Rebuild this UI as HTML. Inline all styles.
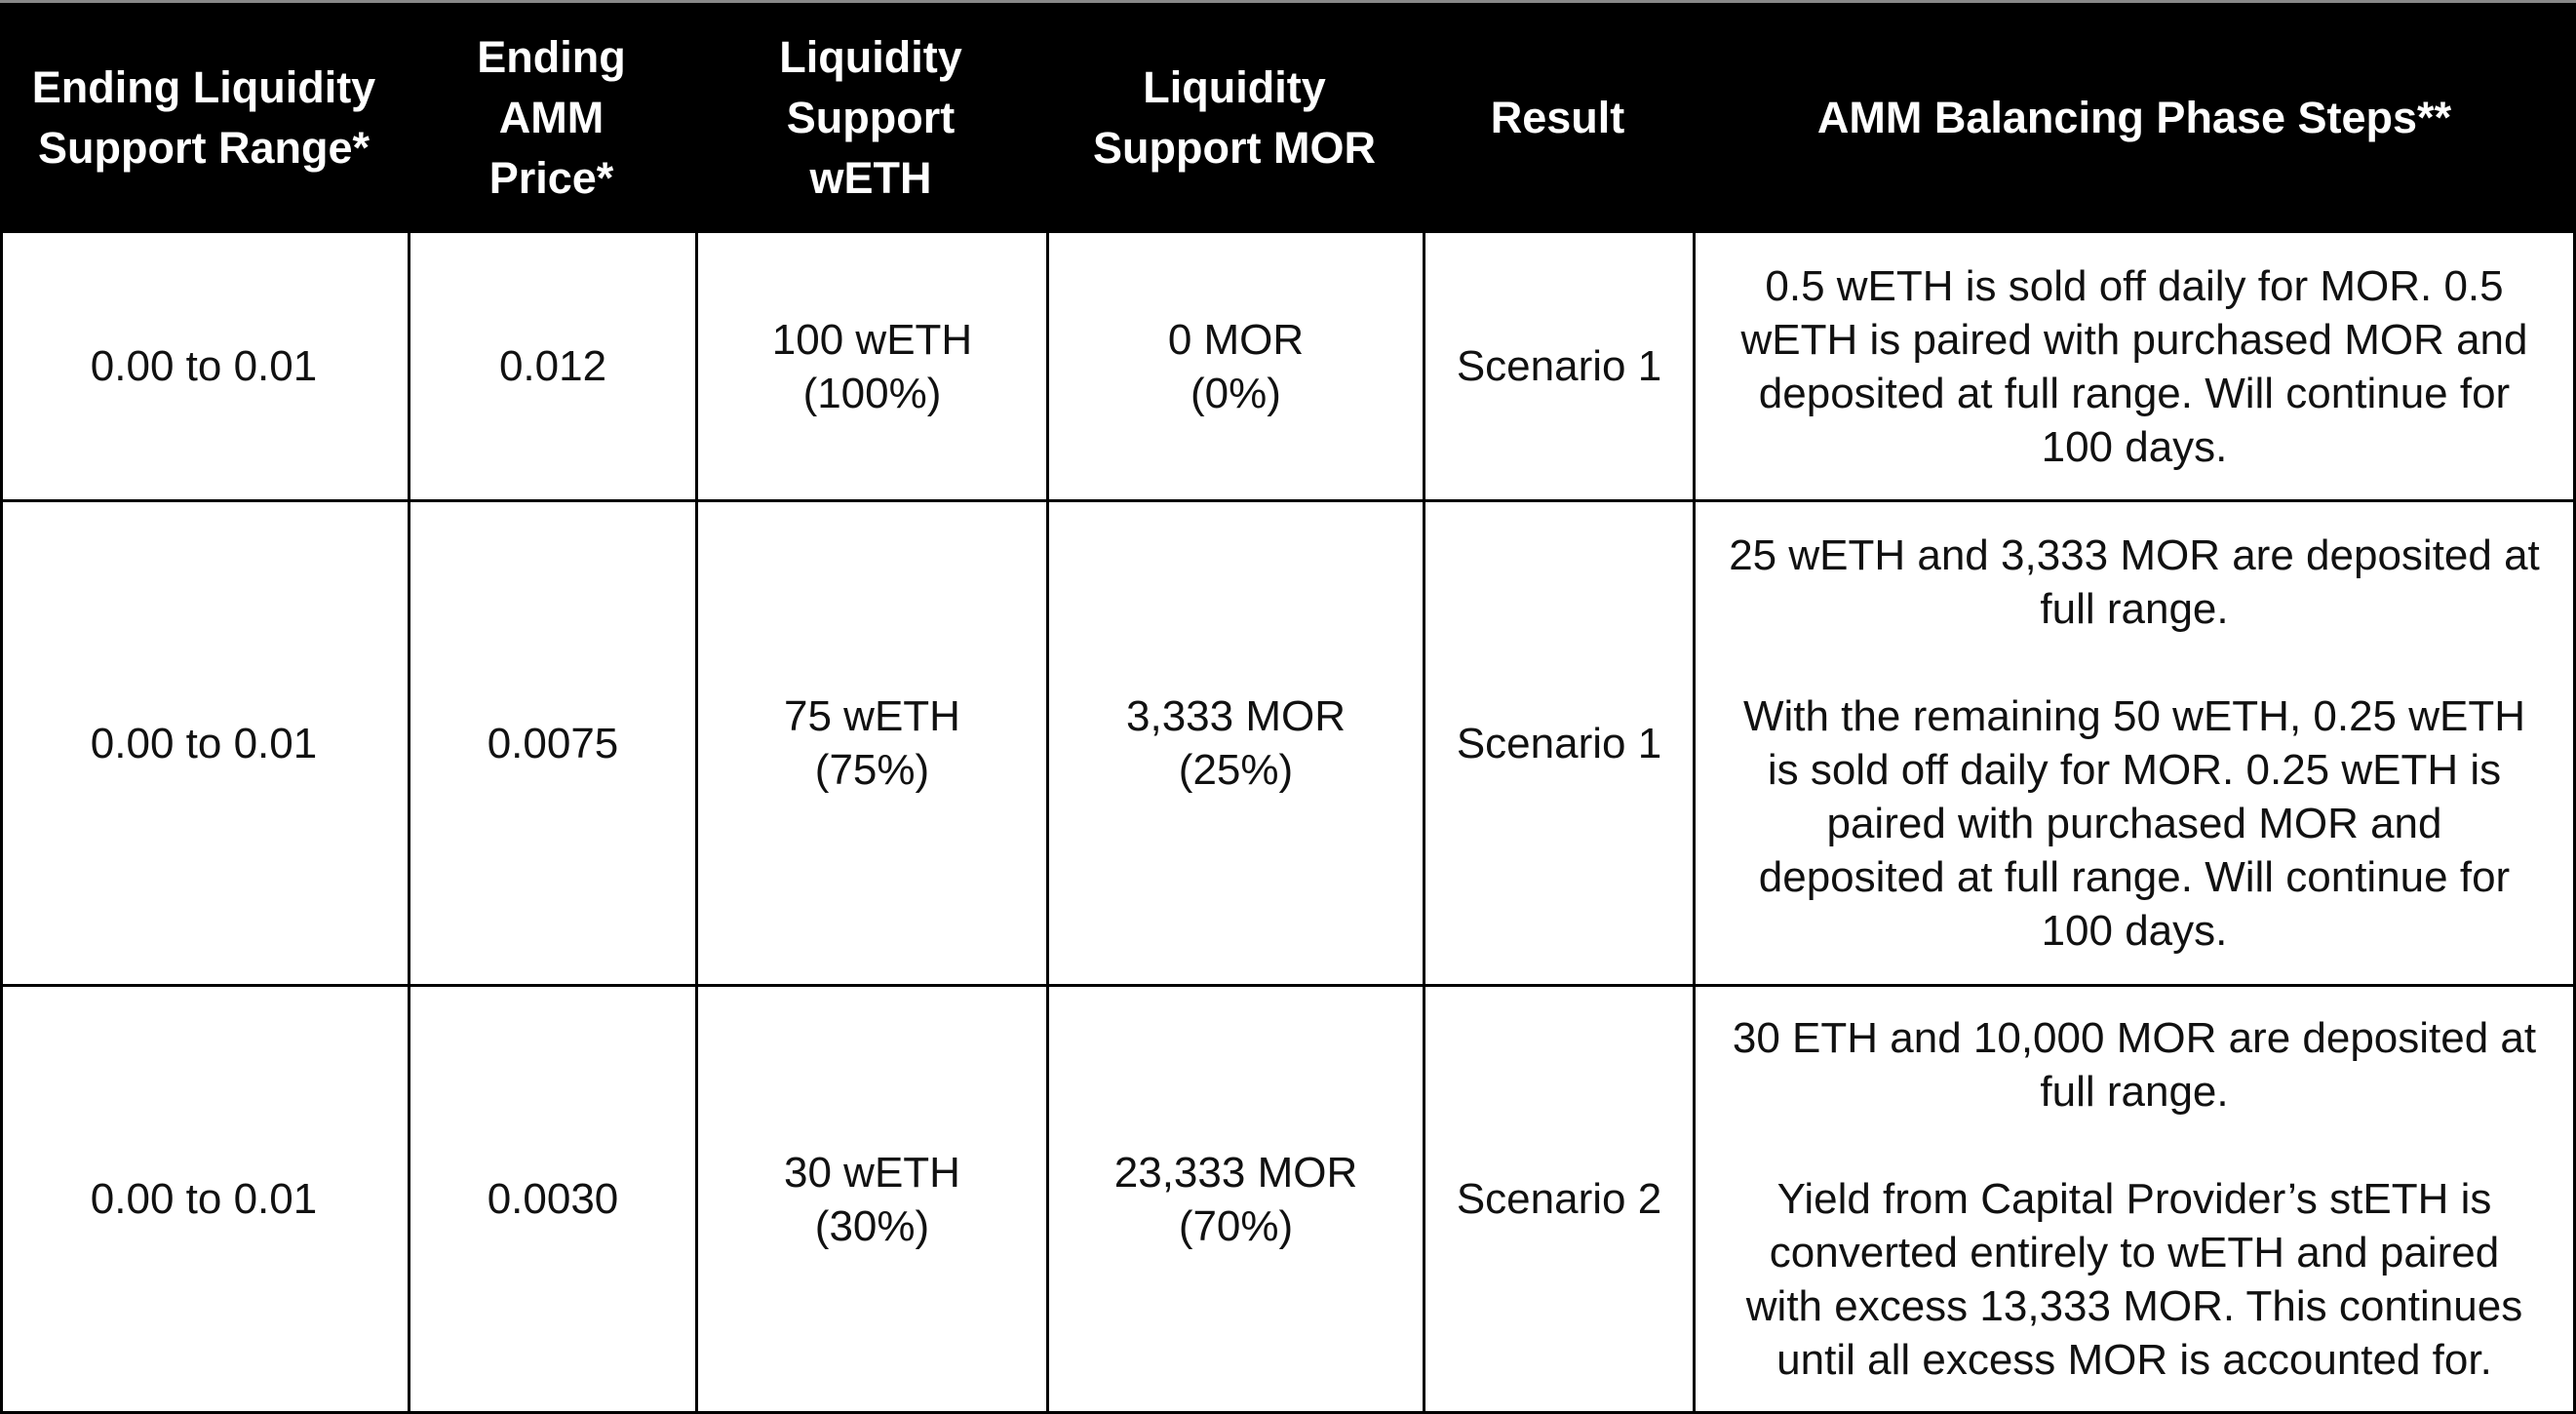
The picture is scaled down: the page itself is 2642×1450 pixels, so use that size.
<!DOCTYPE html>
<html><head><meta charset="utf-8"><style>
html,body{margin:0;padding:0;background:#fff;}
#t{position:relative;width:2642px;height:1450px;overflow:hidden;background:#fff;font-family:"Liberation Sans",sans-serif;}
.c{position:absolute;box-sizing:border-box;display:flex;align-items:center;justify-content:center;text-align:center;}
.h{background:#000;color:#fff;font-weight:bold;font-size:45px;line-height:62px;letter-spacing:0px;}
.b{border-right:3px solid #000;border-bottom:3px solid #000;color:#111;font-size:44px;line-height:55px;letter-spacing:0px;}
</style></head><body>
<div id="t">
<div style="position:absolute;left:0;top:0;width:2642px;height:3px;background:#888"></div>
<div class="c h" style="left:0;top:3px;width:2642px;height:236px"></div>
<div class="c h" style="left:0;top:3px;width:418px;height:236px">Ending Liquidity<br>Support Range*</div>
<div class="c h" style="left:418px;top:3px;width:295px;height:236px">Ending<br>AMM<br>Price*</div>
<div class="c h" style="left:713px;top:3px;width:360px;height:236px">Liquidity<br>Support<br>wETH</div>
<div class="c h" style="left:1073px;top:3px;width:386px;height:236px">Liquidity<br>Support MOR</div>
<div class="c h" style="left:1459px;top:3px;width:277px;height:236px">Result</div>
<div class="c h" style="left:1736px;top:3px;width:906px;height:236px">AMM Balancing Phase Steps**</div>

<div style="position:absolute;left:0;top:239px;width:3px;height:1211px;background:#000"></div>

<div class="c b" style="left:0;top:239px;width:421px;height:276px">0.00 to 0.01</div>
<div class="c b" style="left:421px;top:239px;width:295px;height:276px">0.012</div>
<div class="c b" style="left:716px;top:239px;width:360px;height:276px">100 wETH<br>(100%)</div>
<div class="c b" style="left:1076px;top:239px;width:386px;height:276px">0 MOR<br>(0%)</div>
<div class="c b" style="left:1462px;top:239px;width:277px;height:276px">Scenario 1</div>
<div class="c b" style="left:1739px;top:239px;width:903px;height:276px">0.5 wETH is sold off daily for MOR. 0.5<br>wETH is paired with purchased MOR and<br>deposited at full range. Will continue for<br>100 days.</div>

<div class="c b" style="left:0;top:515px;width:421px;height:497px">0.00 to 0.01</div>
<div class="c b" style="left:421px;top:515px;width:295px;height:497px">0.0075</div>
<div class="c b" style="left:716px;top:515px;width:360px;height:497px">75 wETH<br>(75%)</div>
<div class="c b" style="left:1076px;top:515px;width:386px;height:497px">3,333 MOR<br>(25%)</div>
<div class="c b" style="left:1462px;top:515px;width:277px;height:497px">Scenario 1</div>
<div class="c b" style="left:1739px;top:515px;width:903px;height:497px">25 wETH and 3,333 MOR are deposited at<br>full range.<br><br>With the remaining 50 wETH, 0.25 wETH<br>is sold off daily for MOR. 0.25 wETH is<br>paired with purchased MOR and<br>deposited at full range. Will continue for<br>100 days.</div>

<div class="c b" style="left:0;top:1012px;width:421px;height:438px">0.00 to 0.01</div>
<div class="c b" style="left:421px;top:1012px;width:295px;height:438px">0.0030</div>
<div class="c b" style="left:716px;top:1012px;width:360px;height:438px">30 wETH<br>(30%)</div>
<div class="c b" style="left:1076px;top:1012px;width:386px;height:438px">23,333 MOR<br>(70%)</div>
<div class="c b" style="left:1462px;top:1012px;width:277px;height:438px">Scenario 2</div>
<div class="c b" style="left:1739px;top:1012px;width:903px;height:438px">30 ETH and 10,000 MOR are deposited at<br>full range.<br><br>Yield from Capital Provider’s stETH is<br>converted entirely to wETH and paired<br>with excess 13,333 MOR. This continues<br>until all excess MOR is accounted for.</div>
</div>
</body></html>
